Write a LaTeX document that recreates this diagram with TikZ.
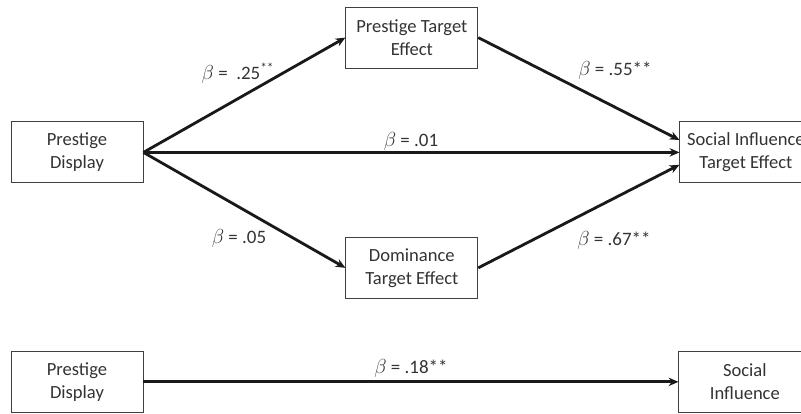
\documentclass[tikz,border=0pt]{standalone}
\usepackage{fontspec}
\setmainfont{Carlito}
\usetikzlibrary{positioning,arrows.meta}

\tikzset{
  box/.style={draw=black!75, line width=0.6pt, minimum width=3.3cm, minimum height=1.525cm,
    align=center, inner sep=1pt, text=black!80, font=\fontsize{13.2}{16.4}\selectfont},
  link/.style={draw=black!90, line width=2pt, -{Stealth[length=7pt,width=6pt]}},
  coef/.style={text=black!80, inner sep=0pt, font=\fontsize{13.5}{15}\selectfont},
}

\begin{document}
\begin{tikzpicture}
  \useasboundingbox (0,0) rectangle (20.025,-10.325);

  \node (PD) [box] at (1.925,-3.81) {Prestige\\Display};
  \node (PT) [box, right=5.05cm of PD, yshift=2.87cm] {Prestige Target\\Effect};
  \node (DT) [box, below=4.21cm of PT] {Dominance\\Target Effect};
  \node (SI) [box, right=5.03cm of PT, yshift=-2.87cm] {Social Influence\\Target Effect};

  \node (PD2) [box, below=4.19cm of PD] {Prestige\\Display};
  \node (SI2) [box, right=13.375cm of PD2] {Social\\Influence};

  \draw [link] (PD.east) -- (PT.west);
  \draw [link] (PD.east) -- (SI.west);
  \draw [link] (PD.east) -- (DT.west);
  \draw [link] (PT.east) -- ([yshift=0.31cm]SI.west);
  \draw [link] (DT.east) -- ([yshift=-0.31cm]SI.west);
  \draw [link] (PD2.east) -- (SI2.west);

  \node (b25) [coef] at (5.95,-1.825) {$\beta$ = \ .25\textsuperscript{**}};
  \node (b05) [coef] at (5.975,-5.95) {$\beta$ = .05};
  \node (b01) [coef] at (10.275,-3.525) {$\beta$ = .01};
  \node (b55) [coef] at (15.375,-1.75) {$\beta$ = .55**};
  \node (b67) [coef] at (15.35,-6.0) {$\beta$ = .67**};
  \node (b18) [coef] at (10.275,-9.2) {$\beta$ = .18**};

\end{tikzpicture}
\end{document}
